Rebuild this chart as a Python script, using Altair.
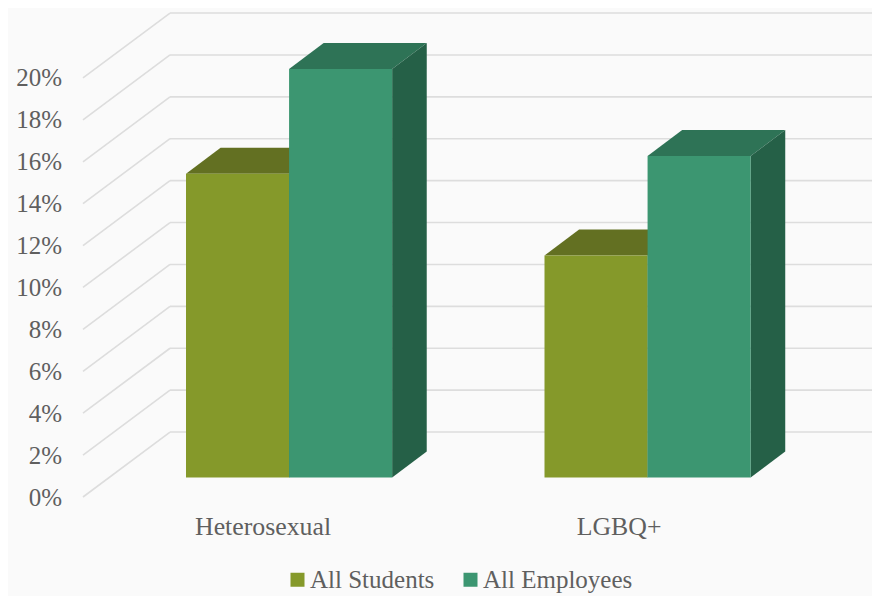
import altair as alt
import pandas as pd

categories = ["Heterosexual", "LGBQ+"]
series = ["All Students", "All Employees"]
students = [14.5, 10.6]
employees = [19.5, 15.35]
ticks = list(range(0, 21, 2))
front_colors = ["#85992a", "#3c9671"]
top_colors = ["#637022", "#2e7356"]
side_color = "#256047"
grid_color = "#dddddd"
text_color = "#5f5f5f"
font = "Liberation Serif"
font_size = 25
cat_font_size = 25.8

# chart units: x = category spacing, y = percent
BAR_W = 0.2875
DX = 0.0965
DY = 1.24
X_DOM = [-0.4965, 1.9135]
Y_DOM = [-5.656, 22.41]
WALL_L, WALL_R = -0.2873, -0.0446
FLOOR_FRONT, FLOOR_BACK = -0.93, 2.17

x_scale = alt.Scale(domain=X_DOM, nice=False, zero=False)
y_scale = alt.Scale(domain=Y_DOM, nice=False, zero=False)
X = lambda f: alt.X(f, type="quantitative", scale=x_scale, axis=None)
Y = lambda f: alt.Y(f, type="quantitative", scale=y_scale, axis=None)

fronts, tops, sides = [], [], []
for c, cat in enumerate(categories):
    for s, (name, vals) in enumerate(zip(series, [students, employees])):
        v = vals[c]
        x0 = c + s * BAR_W
        x1 = x0 + BAR_W
        fronts.append(dict(series=name, x0=x0, x1=x1, v=v, base=0, order=s))
        key = f"{c}-{s}"
        for x, lo, hi in [(x0, v, v), (x0 + DX, v, v + DY), (x1, v, v + DY), (x1 + DX, v + DY, v + DY)]:
            tops.append(dict(key=key, s=s, x=x, lo=lo, hi=hi))
        for x, lo, hi in [(x1, 0, v), (x1 + DX, DY, v + DY)]:
            sides.append(dict(key=key, s=s, x=x, lo=lo, hi=hi))
fronts = pd.DataFrame(fronts)
tops = pd.DataFrame(tops)
sides = pd.DataFrame(sides)

grid = pd.DataFrame(dict(
    t=ticks,
    front=[t + FLOOR_FRONT for t in ticks],
    back=[t + FLOOR_BACK for t in ticks],
    xl=[WALL_L] * len(ticks),
    xm=[WALL_R] * len(ticks),
    xr=[X_DOM[1]] * len(ticks),
))

y_axis = alt.Axis(
    values=ticks, labelExpr="datum.value + '%'", domain=False, ticks=False, grid=False,
    title=None, offset=-53.5, labelPadding=0, labelOffset=19.5, labelFont=font,
    labelFontSize=font_size, labelColor=text_color)

back_rules = alt.Chart(grid).mark_rule(color=grid_color, strokeWidth=1.6).encode(
    x=X("xm"), x2="xr", y=alt.Y("back:Q", scale=y_scale, axis=y_axis))
wall_rules = alt.Chart(grid).mark_rule(color=grid_color, strokeWidth=1.6).encode(
    x=X("xl"), x2="xm", y=Y("front"), y2="back")

layers = [back_rules, wall_rules]
for s in range(2):
    f_top = alt.Chart(tops[tops.s == s]).mark_area(color=top_colors[s]).encode(
        x=X("x"), y=Y("lo"), y2="hi", detail="key:N")
    f_side = alt.Chart(sides[sides.s == s]).mark_area(color=side_color).encode(
        x=X("x"), y=Y("lo"), y2="hi", detail="key:N")
    f_front = alt.Chart(fronts[fronts.order == s]).mark_rect().encode(
        x=X("x0"), x2="x1", y=Y("base"), y2="v",
        color=alt.Color("series:N", scale=alt.Scale(domain=series, range=front_colors),
                        sort=series,
                        legend=alt.Legend(
                            orient="none", legendX=277, legendY=559, direction="horizontal",
                            title=None, symbolType="square", symbolSize=196, symbolStrokeWidth=0,
                            labelFont=font, labelFontSize=font_size, labelColor=text_color,
                            labelOffset=0, columnPadding=23, labelLimit=300)))
    layers += [f_top, f_side, f_front]

labels = pd.DataFrame(dict(name=categories, x=[0.215, 1.208], y=[-2.36, -2.36]))
cat_text = alt.Chart(labels).mark_text(font=font, fontSize=cat_font_size, color=text_color,
                                       align="center", baseline="middle").encode(
    x=X("x"), y=Y("y"), text="name:N")
layers.append(cat_text)

chart = alt.layer(*layers).resolve_scale(color="shared").resolve_axis(y="independent").properties(
    width=864, height=588, padding=0, background="#fafafa",
    autosize=alt.AutoSizeParams(type="none")
).configure_view(stroke=None)

chart.save("out.html", embed_options={"renderer": "svg", "actions": False})
